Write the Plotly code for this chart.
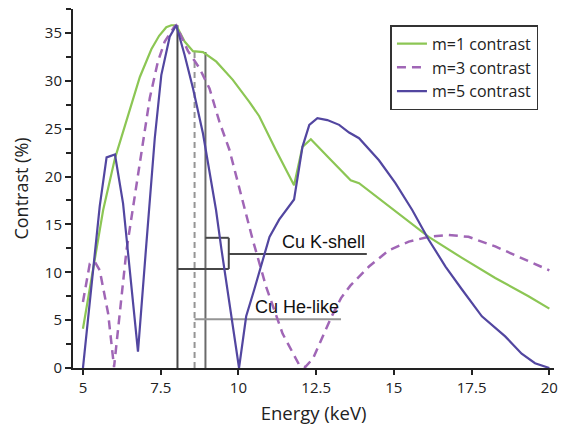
import plotly.graph_objects as go

# ---- data ----
m1_energy = [5.0, 5.33, 5.65, 6.03, 6.41, 6.83, 7.2, 7.45, 7.68, 7.84, 8.0, 8.27, 8.54, 8.86,
             9.29, 9.82, 10.35, 10.67, 11.2, 11.79, 12.06, 12.33, 12.92, 13.61, 13.88,
             14.52, 15.27, 16.12, 17.19, 18.26, 19.33, 20.0]
m1_contrast = [4.1, 10.6, 16.5, 21.9, 25.9, 30.4, 33.3, 34.7, 35.6, 35.8, 35.8, 34.1, 33.1, 33.0,
               32.0, 30.1, 27.8, 26.3, 22.8, 19.1, 23.1, 23.9, 21.9, 19.6, 19.3,
               17.7, 15.8, 13.7, 11.5, 9.4, 7.5, 6.2]

m3_energy = [5.0, 5.22, 5.38, 5.54, 5.81, 6.0, 6.4, 6.67, 6.93, 7.15, 7.41, 7.63, 7.95, 8.0,
             8.38, 8.75, 9.07, 9.39, 9.71, 10.03, 10.46, 10.89, 11.42, 11.96, 12.15, 12.4,
             12.7, 13.0, 13.3, 13.6, 14.2, 14.84, 15.48, 16.12, 16.76, 17.4, 18.26, 19.11, 20.0]
m3_contrast = [6.9, 10.9, 11.1, 10.2, 5.7, 0.1, 12.3, 17.9, 23.8, 28.2, 32.0, 34.1, 35.7, 35.8,
               33.1, 31.3, 29.2, 25.7, 22.8, 18.7, 13.4, 8.5, 3.6, 0.3, 0.1, 1.0,
               3.2, 5.4, 7.3, 8.6, 10.6, 12.3, 13.2, 13.7, 13.9, 13.7, 12.7, 11.5, 10.2]

m5_energy = [5.0, 5.54, 5.76, 6.03, 6.29, 6.77, 7.04, 7.31, 7.52, 7.79, 8.0, 8.27, 8.54, 8.86,
             9.28, 9.45, 10.02, 10.25, 10.51, 11.0, 11.31, 11.79, 12.06, 12.28, 12.54, 12.86,
             13.24, 13.56, 13.88, 14.52, 15.05, 15.59, 16.12, 16.66, 17.19, 17.83, 18.58,
             19.11, 19.54, 20.0]
m5_contrast = [0.0, 16.9, 22.0, 22.3, 17.2, 1.7, 13.0, 24.0, 30.6, 34.6, 35.8, 32.7, 29.2, 24.5,
               16.5, 12.5, 0.0, 5.4, 8.2, 13.7, 15.5, 17.6, 23.1, 25.4, 26.1, 25.9,
               25.4, 24.6, 24.0, 21.7, 19.3, 16.5, 13.4, 10.6, 8.2, 5.4, 3.3,
               1.5, 0.5, 0.0]

series_names = ["m=1 contrast", "m=3 contrast", "m=5 contrast"]

# emission line markers (keV) and their heights (%)
kalpha_energy, kalpha_top = 8.04, 35.8
helike_energy, helike_top = 8.59, 33.0
kbeta_energy, kbeta_top = 8.94, 33.0
kshell_label = "Cu K-shell"
helike_label = "Cu He-like"
bracket_right = 9.69
bracket_low, bracket_high, bracket_mid = 10.34, 13.6, 11.9
kshell_label_end = 14.13
helike_line_y = 5.08
helike_label_end = 13.3

x_ticks = [5, 7.5, 10, 12.5, 15, 17.5, 20]
x_tick_text = ["5", "7.5", "10", "12.5", "15", "17.5", "20"]

GREEN = "rgb(140,198,84)"
PURPLE = "rgb(160,102,182)"
BLUE = "rgb(82,70,160)"
DARK = "#474747"
MID = "#6a6a6a"
LIGHT = "#959595"

fig = go.Figure()

def seg(x0, y0, x1, y1, color, width=2, dash="solid"):
    fig.add_trace(go.Scatter(x=[x0, x1], y=[y0, y1], mode="lines",
                             line=dict(color=color, width=width, dash=dash),
                             showlegend=False, hoverinfo="skip"))

# annotation lines
seg(kalpha_energy, 0, kalpha_energy, kalpha_top, DARK)
seg(helike_energy, 0, helike_energy, helike_top, LIGHT, 2, "6px,4px")
seg(kbeta_energy, 0, kbeta_energy, kbeta_top, MID)
seg(kalpha_energy, bracket_low, bracket_right, bracket_low, DARK)
seg(kbeta_energy, bracket_high, bracket_right, bracket_high, DARK)
seg(bracket_right, bracket_low, bracket_right, bracket_high, DARK)
seg(bracket_right, bracket_mid, kshell_label_end, bracket_mid, DARK)
seg(helike_energy, helike_line_y, helike_label_end, helike_line_y, LIGHT)

fig.add_trace(go.Scatter(x=m1_energy, y=m1_contrast, mode="lines", name=series_names[0],
                         line=dict(color=GREEN, width=2.2)))
fig.add_trace(go.Scatter(x=m3_energy, y=m3_contrast, mode="lines", name=series_names[1],
                         line=dict(color=PURPLE, width=2.5, dash="9px,6px")))
fig.add_trace(go.Scatter(x=m5_energy, y=m5_contrast, mode="lines", name=series_names[2],
                         line=dict(color=BLUE, width=2.2)))

fig.add_annotation(x=kshell_label_end, y=bracket_mid, text=kshell_label, showarrow=False,
                   xanchor="right", yanchor="bottom",
                   font=dict(family="Liberation Sans, Arial", size=18, color="#111"))
fig.add_annotation(x=helike_label_end, y=helike_line_y, text=helike_label, showarrow=False,
                   xanchor="right", yanchor="bottom",
                   font=dict(family="Liberation Sans, Arial", size=18, color="#111"))

axis_font = dict(family="Open Sans, Lato, sans-serif", size=15, color="#222")
fig.update_layout(
    width=567, height=432,
    margin=dict(l=73, r=11, t=9, b=64),
    paper_bgcolor="white", plot_bgcolor="white",
    font=axis_font,
    legend=dict(x=0.66, y=0.955, xanchor="left", yanchor="top",
                bordercolor="#333", borderwidth=1.5, bgcolor="white",
                font=dict(family="Open Sans, Lato, sans-serif", size=16, color="#222"),
                tracegroupgap=0, itemwidth=30),
    xaxis=dict(range=[4.68, 20.15], tickvals=x_ticks, ticktext=x_tick_text,
               ticks="outside", ticklen=5, tickwidth=1.5, tickcolor="#222",
               showline=True, linecolor="#222", linewidth=2, showgrid=False, zeroline=False,
               title=dict(text="Energy (keV)", font=dict(size=18.5), standoff=11)),
    yaxis=dict(range=[0, 37.5], dtick=5, ticks="outside", ticklen=6, tickwidth=1.5,
               tickcolor="#222",
               minor=dict(dtick=2.5, ticks="outside", ticklen=5, tickwidth=1.5, tickcolor="#222"),
               showline=True, linecolor="#222", linewidth=2, showgrid=False, zeroline=False,
               title=dict(text="Contrast (%)", font=dict(size=18), standoff=12)),
)

fig.write_html("out.html")
